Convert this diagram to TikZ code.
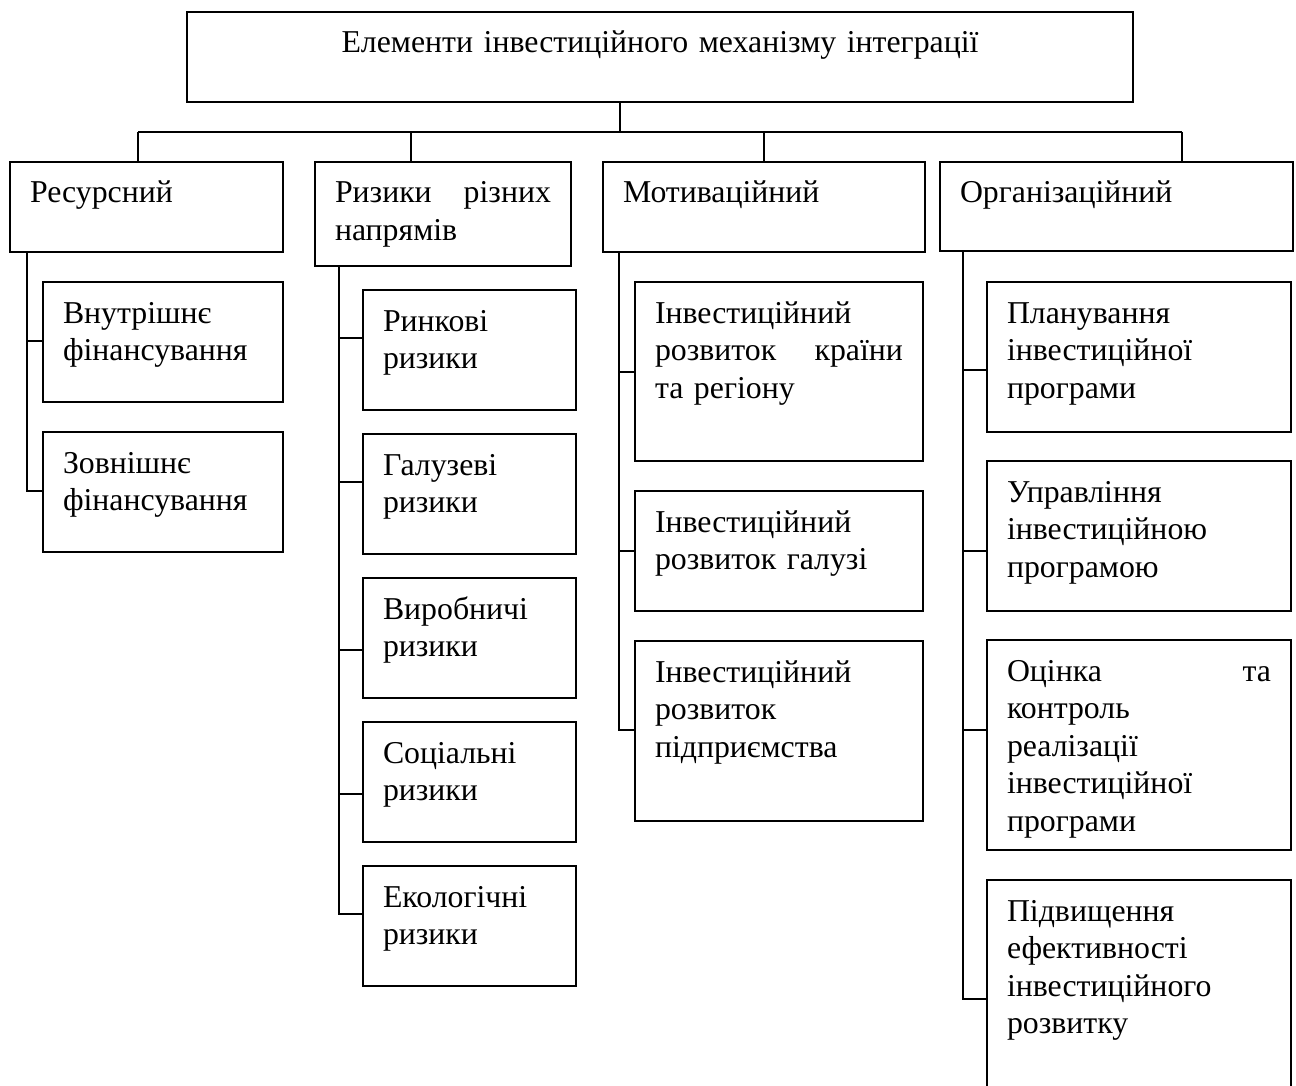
\documentclass[tikz,border=0pt]{standalone}
\usepackage{fontspec}
\setmainfont{Liberation Serif}

% One framed block: frame node plus its text node, top-left aligned inside.
% #1 alignment, #2 name, #3..#6 corners (x1,y1,x2,y2), #7 text
\newcommand\mkbox[7][left]{%
  \pgfmathsetmacro\boxW{#5-#3}%
  \pgfmathsetmacro\boxH{#6-#4}%
  \pgfmathsetmacro\txtW{#5-#3-40}%
  \node[frame, minimum width=\boxW pt, minimum height=\boxH pt] (#2) at (#3,#4) {};
  \node[lbl, align=#1, text width=\txtW pt] (#2-t) at (#3+20,#4+14.75) {\strut #7};
}

\begin{document}
\begin{tikzpicture}[x=1pt,y=-1pt,
  frame/.style={draw, line width=2pt, inner sep=0pt, outer sep=0pt, anchor=north west},
  lbl/.style={anchor=north west, inner sep=0pt, outer sep=0pt,
              font=\fontsize{31.8}{37.5}\selectfont},
  link/.style={line width=2pt}]

\useasboundingbox (0,0) rectangle (1296,1086);
\clip (0,0) rectangle (1296,1086);

% heading
\mkbox[center]{top}{187}{12}{1133}{102}{Елементи інвестиційного механізму інтеграції}

% first level
\mkbox{res}{10}{162}{283}{252}{Ресурсний}
\mkbox{riz}{315}{162}{571}{266}{Ризики \hfill різних\\напрямів}
\mkbox{mot}{603}{162}{925}{252}{Мотиваційний}
\mkbox{org}{940}{162}{1293}{251}{Організаційний}

% resource branch
\mkbox{vn}{43}{282}{283}{402}{Внутрішнє\\фінансування}
\mkbox{zo}{43}{432}{283}{552}{Зовнішнє\\фінансування}

% risk branch
\mkbox{rin}{363}{290}{576}{410}{Ринкові\\ризики}
\mkbox{gal}{363}{434}{576}{554}{Галузеві\\ризики}
\mkbox{vyr}{363}{578}{576}{698}{Виробничі\\ризики}
\mkbox{soc}{363}{722}{576}{842}{Соціальні\\ризики}
\mkbox{eko}{363}{866}{576}{986}{Екологічні\\ризики}

% motivation branch
\mkbox{ik}{635}{282}{923}{461}{Інвестиційний\\розвиток \hfill країни\\та регіону}
\mkbox{ig}{635}{491}{923}{611}{Інвестиційний\\розвиток галузі}
\mkbox{ip}{635}{641}{923}{821}{Інвестиційний\\розвиток\\підприємства}

% organisation branch
\mkbox{pl}{987}{282}{1291}{432}{Планування\\інвестиційної\\програми}
\mkbox{up}{987}{461}{1291}{611}{Управління\\інвестиційною\\програмою}
\mkbox{oc}{987}{640}{1291}{850}{Оцінка \hfill та\\контроль\\реалізації\\інвестиційної\\програми}
\mkbox{pd}{987}{880}{1291}{1100}{Підвищення\\ефективності\\інвестиційного\\розвитку}

% bus from the heading to the four groups
\coordinate (trunk) at (620,102);
\coordinate (bus1) at (138,132);
\coordinate (bus2) at (411,132);
\coordinate (bus3) at (764,132);
\coordinate (bus4) at (1182,132);
\draw[link] (trunk) -- (trunk |- bus1);
\draw[link] (bus1) -- (bus4);
\draw[link] (bus1) -- (bus1 |- res.north);
\draw[link] (bus2) -- (bus2 |- riz.north);
\draw[link] (bus3) -- (bus3 |- mot.north);
\draw[link] (bus4) -- (bus4 |- org.north);

% group spines
\coordinate (resV) at (27,252);
\coordinate (rizV) at (339,266);
\coordinate (motV) at (619,252);
\coordinate (orgV) at (963,251);

\draw[link] (resV) |- (vn.west |- 0,341);
\draw[link] (resV) |- (zo.west |- 0,491);

\draw[link] (rizV) |- (rin.west |- 0,338);
\draw[link] (rizV) |- (gal.west |- 0,482);
\draw[link] (rizV) |- (vyr.west |- 0,650);
\draw[link] (rizV) |- (soc.west |- 0,794);
\draw[link] (rizV) |- (eko.west |- 0,914);

\draw[link] (motV) |- (ik.west |- 0,372);
\draw[link] (motV) |- (ig.west |- 0,551);
\draw[link] (motV) |- (ip.west |- 0,730);

\draw[link] (orgV) |- (pl.west |- 0,370);
\draw[link] (orgV) |- (up.west |- 0,551);
\draw[link] (orgV) |- (oc.west |- 0,730);
\draw[link] (orgV) |- (pd.west |- 0,999);
\end{tikzpicture}
\end{document}
